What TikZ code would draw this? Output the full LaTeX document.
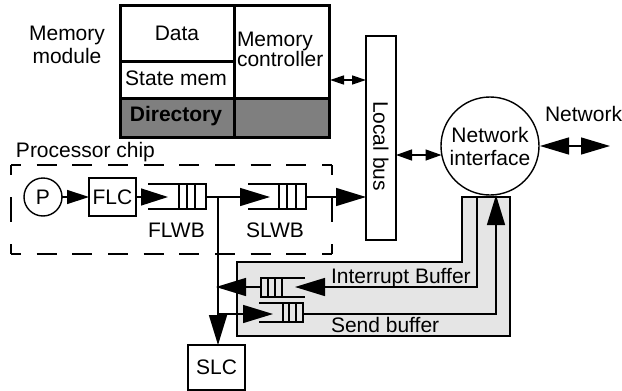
\documentclass[tikz,border=0pt]{standalone}
\usepackage{fontspec}
\setmainfont{Liberation Sans}
\usetikzlibrary{arrows.meta}
\definecolor{darkfill}{HTML}{7F7F7F}
\definecolor{lightfill}{HTML}{E5E5E5}
\tikzset{
  lbl/.style={inner sep=0pt,outer sep=0pt,font=\fontsize{21}{22}\selectfont},
  heavy/.style={draw,line width=3pt},
  wire/.style={draw,line width=1.4pt},
  thinl/.style={draw,line width=1.4pt},
  boxn/.style={draw,line width=1.4pt,inner sep=0pt,outer sep=0pt},
  dashh/.style={line width=1.4pt,dash pattern=on 20pt off 15.67pt,dash phase=10pt},
  dashv/.style={line width=1.4pt,dash pattern=on 25pt off 22pt,dash phase=15pt},
  bigtip/.style={-{Triangle[length=30pt,width=18pt]}},
  flctip/.style={-{Triangle[length=27pt,width=17pt]}},
  midtip/.style={-{Triangle[length=22pt,width=14pt]}},
  bothbig/.style={{Triangle[length=29pt,width=17pt]}-{Triangle[length=29pt,width=17pt]}},
  bothmid/.style={{Triangle[length=16pt,width=11pt]}-{Triangle[length=16pt,width=11pt]}},
  bothsmall/.style={{Triangle[length=14pt,width=9pt]}-{Triangle[length=14pt,width=9pt]}},
}
\begin{document}
\begin{tikzpicture}[x=1pt,y=-1pt]
\useasboundingbox (0,0) rectangle (622,391);
% grey send/interrupt region
\draw[line width=1.5pt,fill=lightfill] (237,262) -- (462,262) -- (462,197) -- (510,197) -- (510,336) -- (237,336) -- cycle;
% processor chip
\draw[dashh] (11,165) -- (332,165);
\draw[dashh] (11,254) -- (332,254);
\draw[dashv] (11,165) -- (11,254);
\draw[dashv] (332,165) -- (332,254);
% memory module
\fill[darkfill] (120,98) rectangle (329,137);
\draw[heavy] (120,5) rectangle (329,137);
\draw[heavy] (234,5) -- (234,137);
\draw[heavy] (120,61) -- (234,61);
\draw[heavy] (120,98) -- (329,98);
\node[lbl,align=center] (mm) at (67,45) {Memory\\[1pt]module};
\node[lbl] (data) at (177,33) {Data};
\node[lbl] (state) at (176,78) {State mem};
\node[lbl,font=\fontsize{21}{22}\selectfont\bfseries] (dir) at (176,116) {Directory};
\node[lbl,align=left,anchor=west] (mc) at (237,49.5) {Memory\\[-2pt]controller};
% local bus and interface
\node[boxn,minimum width=30pt,minimum height=204pt] (bus) at (381,138) {};
\node[lbl,rotate=-90] (bust) at (381,146) {Local bus};
\node[circle,draw,line width=1.4pt,minimum size=98pt,inner sep=0pt,outer sep=0pt] (ni) at (490,146) {};
\node[lbl,align=center] (nit) at (490,146) {Network\\[1pt]interface};
\node[lbl,anchor=base west] (net) at (545,121) {Network};
\coordinate (memr) at (330,80);
\coordinate (busl) at (366,80);
\draw[wire,bothsmall] (memr) -- (busl);
\coordinate (busr) at (396,155);
\coordinate (nil) at (441.5,155);
\draw[wire,bothmid] (busr) -- (nil);
\coordinate (netl) at (540,146);
\coordinate (netr) at (610,146);
\draw[wire,bothbig] (netl) -- (netr);
% processor chip contents
\node[lbl,anchor=base west] (pc) at (16,157) {Processor chip};
\node[circle,draw,line width=1.4pt,minimum size=38pt,inner sep=0pt,outer sep=0pt,font=\fontsize{21}{22}\selectfont] (p) at (43,197) {P};
\node[boxn,minimum width=47pt,minimum height=38pt,font=\fontsize{21}{22}\selectfont] (flc) at (112.5,197) {FLC};
\draw[wire,midtip] (p) -- (flc);
% FLWB
\draw[thinl] (148,184) -- (206,184) -- (206,209) -- (148,209);
\foreach \x in {179,187,195} \draw[thinl] (\x,184) -- (\x,209);
\coordinate (flwbin) at (168,197);
\coordinate (flwbout) at (206,197);
\draw[wire,flctip] (flc) -- (flwbin);
\node[lbl,anchor=base west] (flwb) at (148,237) {FLWB};
% SLWB
\draw[thinl] (248,184) -- (306,184) -- (306,209) -- (248,209);
\foreach \x in {279,287,296} \draw[thinl] (\x,184) -- (\x,209);
\coordinate (slwbin) at (270,197);
\coordinate (slwbout) at (306,197);
\draw[wire,bigtip] (flwbout) -- (slwbin);
\node[lbl,anchor=base west] (slwb) at (246,237) {SLWB};
\coordinate (busin) at (366,197);
\draw[wire,bigtip] (slwbout) -- (busin);
% SLC
\node[boxn,minimum width=57pt,minimum height=45pt,font=\fontsize{21}{22}\selectfont] (slc) at (216.5,367.5) {SLC};
\coordinate (junc) at (218,197);
\coordinate (slctip) at (218,345);
\draw[wire,bigtip] (junc) -- (slctip);
% interrupt buffer
\draw[thinl] (305,278) -- (261,278) -- (261,297) -- (305,297);
\foreach \x in {268,275,282} \draw[thinl] (\x,278) -- (\x,297);
\coordinate (intin) at (295,287);
\coordinate (intout) at (261,287);
\coordinate (intleft) at (216,287);
\coordinate (intup) at (477,197);
\draw[wire,bigtip] (intup) -- (477,287) -- (intin);
\draw[wire,bigtip] (intout) -- (intleft);
\node[lbl,anchor=base west] (intl) at (331,283) {Interrupt Buffer};
% send buffer
\draw[thinl] (259,303) -- (303,303) -- (303,322) -- (259,322);
\foreach \x in {283,289,296} \draw[thinl] (\x,303) -- (\x,322);
\coordinate (sendin) at (273,314);
\coordinate (sendout) at (303,314);
\coordinate (sendtap) at (218,314);
\draw[wire,bigtip] (sendtap) -- (sendin);
\coordinate (niin) at (496,195);
\draw[wire,bigtip] (sendout) -- (496,314) -- (niin);
\node[lbl,anchor=base west] (sendl) at (331,332) {Send buffer};
\end{tikzpicture}
\end{document}
